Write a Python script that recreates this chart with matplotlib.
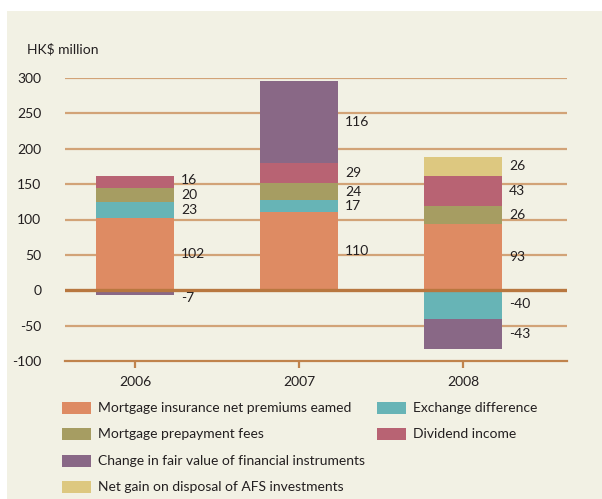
import matplotlib
matplotlib.use('Agg')
import matplotlib.pyplot as plt
from matplotlib.patches import Rectangle

# Data (HK$ million)
years = ['2006', '2007', '2008']
premiums = [102, 110, 93]
exchange = [23, 17, -40]
prepayment = [20, 24, 26]
dividend = [16, 29, 43]
fair_value = [-7, 116, -43]
afs_gain = [0, 0, 26]

# stacking order (bottom -> top)
series = [
    ('Mortgage insurance net premiums eamed', premiums, '#DE8B63'),
    ('Exchange difference', exchange, '#67B4B6'),
    ('Mortgage prepayment fees', prepayment, '#A69D62'),
    ('Dividend income', dividend, '#B86373'),
    ('Change in fair value of financial instruments', fair_value, '#896886'),
    ('Net gain on disposal of AFS investments', afs_gain, '#DDC880'),
]

plt.rcParams['font.family'] = ['Lato', 'DejaVu Sans']
plt.rcParams['axes.unicode_minus'] = False
txt_color = '#231F20'
grid_color = '#D2A377'
fs = 10

fig = plt.figure(figsize=(6.02, 4.99), dpi=100, facecolor='white')
fig.add_artist(Rectangle((7 / 602, 0), 1, 1 - 11 / 499, transform=fig.transFigure,
                         facecolor='#F2F1E4', edgecolor='none', zorder=0))

ax = fig.add_axes([65 / 602, 1 - 361 / 499, (567 - 65) / 602, (361 - 78) / 499])
ax.set_facecolor('none')

x = list(range(len(years)))
width = 0.47
pos_base = [0] * len(years)
neg_base = [0] * len(years)
segments = [[] for _ in years]  # (value, center) per bar
for name, vals, color in series:
    for i, v in enumerate(vals):
        if v == 0:
            continue
        if v > 0:
            b = pos_base[i]
            pos_base[i] += v
        else:
            b = neg_base[i]
            neg_base[i] += v
        ax.bar(x[i], v, width, bottom=b, color=color, zorder=3)
        segments[i].append((v, b + v / 2))

# value labels beside the bars, nudged apart where needed
gap = 21
for i, segs in enumerate(segments):
    prev = -1e9
    for v, c in [s for s in segs if s[0] > 0]:
        yl = max(c, prev + gap)
        prev = yl
        ax.text(x[i] + width / 2 + 0.045, yl, str(v), va='center', ha='left',
                fontsize=fs, color=txt_color, zorder=6)
    prev = 10
    for v, c in [s for s in segs if s[0] < 0]:
        yl = min(c, prev - gap)
        prev = yl
        ax.text(x[i] + width / 2 + 0.045, yl, str(v), va='center', ha='left',
                fontsize=fs, color=txt_color, zorder=6)

ax.set_ylim(-100, 300)
ax.set_xlim(-0.427, 2.634)
ax.set_yticks(range(-100, 301, 50))
for t in range(-50, 301, 50):
    if t == 0:
        continue
    ax.axhline(t, color=grid_color, lw=1.6, zorder=1)
ax.axhline(0, color='#B8773F', lw=2.4, zorder=5)

for s in ['top', 'right', 'left']:
    ax.spines[s].set_visible(False)
ax.spines['bottom'].set_color('#C0834C')
ax.spines['bottom'].set_linewidth(1.6)

ax.set_xticks(x)
ax.set_xticklabels(years)
ax.tick_params(axis='y', length=0, pad=17, labelsize=fs, labelcolor=txt_color)
ax.tick_params(axis='x', length=5, width=1.6, color='#C0834C', pad=6,
               labelsize=fs, labelcolor=txt_color)
for lab in ax.get_yticklabels():
    lab.set_horizontalalignment('right')

fig.text(27 / 602, 1 - 49 / 499, 'HK$ million', fontsize=fs, color=txt_color,
         va='center', ha='left')

# legend laid out as in the original: 4 rows left, 2 rows right
legend_pos = [(62, 408), (377, 408), (62, 434), (377, 434), (62, 461), (62, 487)]
for (name, vals, color), (px, py) in zip(series, legend_pos):
    fig.add_artist(Rectangle((px / 602, 1 - (py + 6) / 499), 29 / 602, 12 / 499,
                             transform=fig.transFigure, facecolor=color,
                             edgecolor='none'))
    fig.text((px + 36) / 602, 1 - py / 499, name, fontsize=fs, color=txt_color,
             va='center', ha='left')

fig.savefig('out.png', dpi=100, facecolor=fig.get_facecolor())
